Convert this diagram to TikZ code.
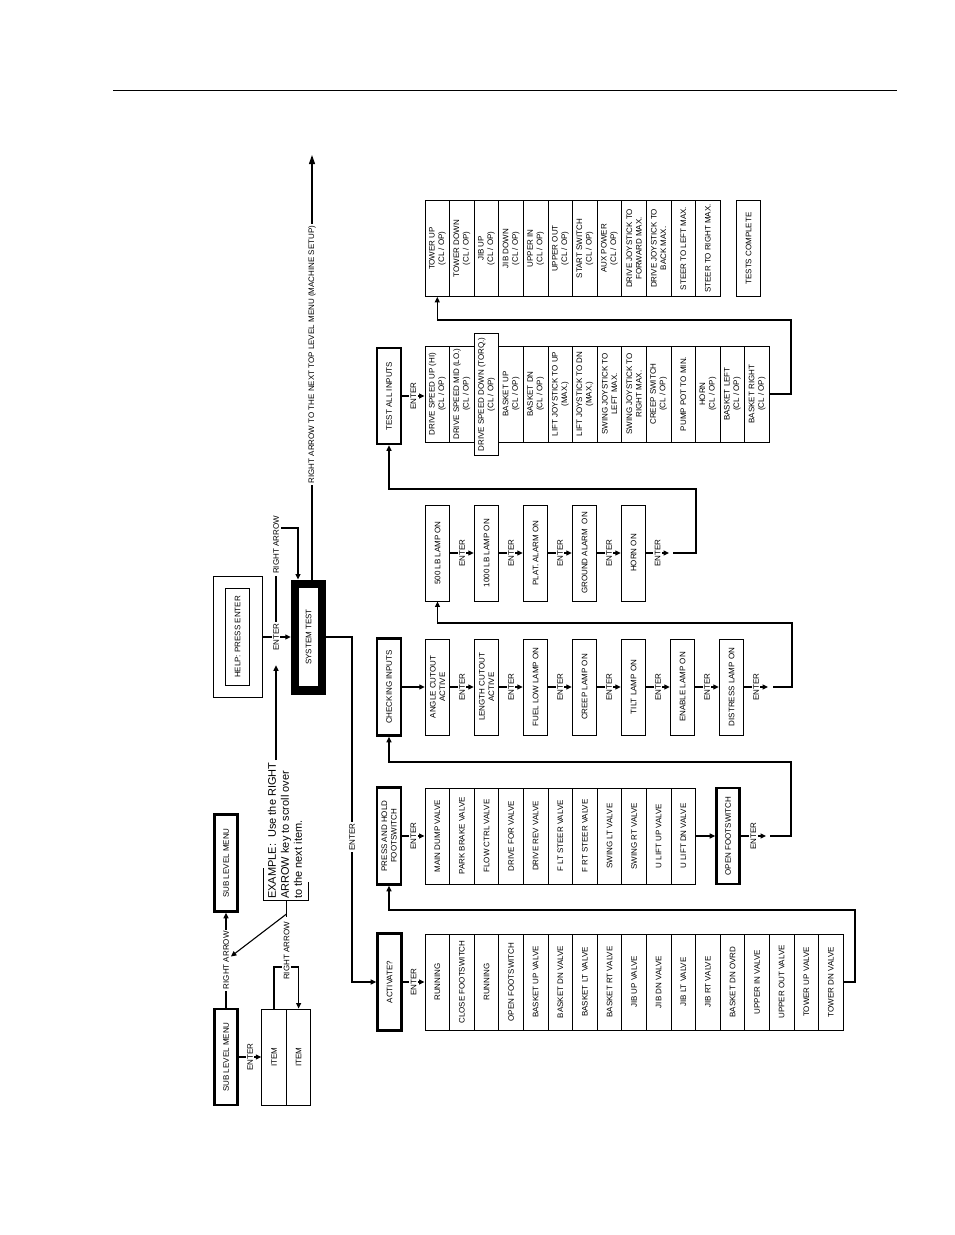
\documentclass[tikz,border=0pt]{standalone}
\usepackage{fontspec}
\setmainfont{Liberation Sans}
\usetikzlibrary{arrows.meta}

\begin{document}
\begin{tikzpicture}[x=1pt,y=-1pt,>={Triangle[length=5.5pt,width=5pt]},line join=miter,
  menu/.style={draw,line width=2.6pt,fill=white,rotate=90,inner sep=1pt,align=center,font=\fontsize{8}{9.5}\selectfont},
  item/.style={draw,line width=0.9pt,fill=white,rotate=90,minimum width=96pt,minimum height=24.6pt,inner sep=0pt,align=center,font=\fontsize{8}{9.5}\selectfont},
  lbl/.style={fill=white,rotate=90,inner sep=1.5pt,font=\fontsize{8}{9.5}\selectfont},
  flow/.style={line width=1.1pt}]
\useasboundingbox (0,0) rectangle (954,1235);
\draw[line width=0.9pt] (113,90) -- (897,90);
% sub level menu example
\node[menu,minimum width=96pt,minimum height=23.5pt] (sub1) at (226,1057) {SUB LEVEL MENU};
\node[menu,minimum width=97pt,minimum height=23.5pt] (sub2) at (226,863) {SUB LEVEL MENU};
\node[item] (it1) at (274,1057) {ITEM};
\node[item] (it2) at (298.6,1057) {ITEM};
\draw[flow,->] (sub1.east) -- node[lbl] (ra1) {RIGHT ARROW} (sub2.west);
\draw[flow,->] (sub1.south) -- node[lbl]{ENTER} (it1.north);
\coordinate (itTop) at (286,967);
\draw[flow,->] (it1.east) |- (itTop) -| (it2.east);
\node[lbl] (ra2) at (286.5,951) {RIGHT ARROW};
\node[rotate=90,anchor=west,align=left,inner sep=0pt,font=\fontsize{11}{13}\selectfont] (ex) at (285,899) {EXAMPLE:\ \ Use the RIGHT\\ARROW key to scroll over\\to the next item.};
\draw[line width=0.9pt] (263,868) -- (263,900) -- (308,900) -- (308,882);
\coordinate (exFoot) at (286.5,900);
\coordinate (exFork) at (286.5,914);
\coordinate (exTop) at (276,760);
\draw[flow,shorten >=3pt] (exFoot) -- (ra2);
\draw[flow,->] (exFork) -- (ra1);
% help and system test
\node[draw,line width=1pt,rotate=90,minimum width=121pt,minimum height=49pt] (help) at (237.5,637) {};
\node[item,minimum width=97pt] (helpin) at (237.5,637) {HELP: PRESS ENTER};
\node[draw,line width=8.5pt,fill=white,rotate=90,minimum width=106.5pt,minimum height=27pt,inner sep=0pt,font=\fontsize{8}{9.5}\selectfont] (sys) at (308.5,637) {SYSTEM TEST};
\node[lbl] (eh) at (276,637) {ENTER};
\node[lbl] (ra3) at (276,545) {RIGHT ARROW};
\draw[flow] (help.south) -- (eh);
\draw[flow,->] (eh) -- (sys.north);
\draw[flow] (eh) -- (ra3);
\draw[flow,->,shorten >=13pt] (exTop) -- (eh);
\coordinate (raOut) at (281,528);
\draw[flow,->] (raOut) -| ([xshift=-10.5pt]sys.east);
\coordinate (topEnd) at (312,155);
\draw[flow,-{Triangle[length=9pt,width=6pt]}] ([xshift=3.5pt]sys.east) -- node[lbl,pos=0.53]{RIGHT ARROW TO THE NEXT TOP LEVEL MENU (MACHINE SETUP)} (topEnd);
% activate
\node[menu,minimum width=97pt,minimum height=24pt] (act) at (389.5,982) {ACTIVATE?};
\node[item] (a1) at (437.3,982) {RUNNING};
\node[item] (a2) at (461.9,982) {CLOSE FOOTSWITCH};
\node[item] (a3) at (486.5,982) {RUNNING};
\node[item] (a4) at (511.1,982) {OPEN FOOTSWITCH};
\node[item] (a5) at (535.7,982) {BASKET UP VALVE};
\node[item] (a6) at (560.3,982) {BASKET DN VALVE};
\node[item] (a7) at (584.9,982) {BASKET LT VALVE};
\node[item] (a8) at (609.5,982) {BASKET RT VALVE};
\node[item] (a9) at (634.1,982) {JIB UP VALVE};
\node[item] (a10) at (658.7,982) {JIB DN VALVE};
\node[item] (a11) at (683.3,982) {JIB LT VALVE};
\node[item] (a12) at (707.9,982) {JIB RT VALVE};
\node[item] (a13) at (732.5,982) {BASKET DN OVRD};
\node[item] (a14) at (757.1,982) {UPPER IN VALVE};
\node[item] (a15) at (781.7,982) {UPPER OUT VALVE};
\node[item] (a16) at (806.3,982) {TOWER UP VALVE};
\node[item] (a17) at (830.9,982) {TOWER DN VALVE};
\coordinate (sysR) at (352,637);
\coordinate (actL) at (352,982);
\draw[flow,->] (sys.south) -- (sysR) -- node[lbl,pos=0.58]{ENTER} (actL) -- (act.north);
\draw[flow,->] (act.south) -- node[lbl]{ENTER} (a1.north);
% press and hold
\node[menu,minimum width=97pt,minimum height=24pt] (ph) at (389,836) {PRESS AND HOLD\\FOOTSWITCH};
\node[item] (p1) at (437.3,836) {MAIN DUMP VALVE};
\node[item] (p2) at (461.9,836) {PARK BRAKE VALVE};
\node[item] (p3) at (486.5,836) {FLOW CTRL VALVE};
\node[item] (p4) at (511.1,836) {DRIVE FOR VALVE};
\node[item] (p5) at (535.7,836) {DRIVE REV VALVE};
\node[item] (p6) at (560.3,836) {F LT STEER VALVE};
\node[item] (p7) at (584.9,836) {F RT STEER VALVE};
\node[item] (p8) at (609.5,836) {SWING LT VALVE};
\node[item] (p9) at (634.1,836) {SWING RT VALVE};
\node[item] (p10) at (658.7,836) {U LIFT UP VALVE};
\node[item] (p11) at (683.3,836) {U LIFT DN VALVE};
\node[menu,minimum width=96pt,minimum height=23pt] (of) at (728,836) {OPEN FOOTSWITCH};
\coordinate (actBack) at (855,910);
\draw[flow,->] (a17.south) -| (actBack) -| (ph.west);
\draw[flow,->] (ph.south) -- node[lbl]{ENTER} (p1.north);
\draw[flow,->] (p11.south) -- (of.north);
\coordinate (ofTip) at (766,836);
\coordinate (ofGo) at (770,836);
\coordinate (ofBack) at (791,762);
\draw[flow,->] (of.south) -- node[lbl]{ENTER} (ofTip);
% checking inputs
\node[menu,minimum width=97pt,minimum height=24pt] (ci) at (389,687) {CHECKING INPUTS};
\node[item] (c1) at (437.5,687) {ANGLE CUTOUT\\ACTIVE};
\node[item] (c2) at (486.5,687) {LENGTH CUTOUT\\ACTIVE};
\node[item] (c3) at (535.5,687) {FUEL LOW LAMP ON};
\node[item] (c4) at (584.5,687) {CREEP LAMP ON};
\node[item] (c5) at (633.5,687) {TILT LAMP ON};
\node[item] (c6) at (682.5,687) {ENABLE LAMP ON};
\node[item] (c7) at (731.5,687) {DISTRESS LAMP ON};
\draw[flow,->] (ofGo) -| (ofBack) -| (ci.west);
\draw[flow,->] (ci.south) -- (c1.north);
\draw[flow,->] (c1.south) -- node[lbl]{ENTER} (c2.north);
\draw[flow,->] (c2.south) -- node[lbl]{ENTER} (c3.north);
\draw[flow,->] (c3.south) -- node[lbl]{ENTER} (c4.north);
\draw[flow,->] (c4.south) -- node[lbl]{ENTER} (c5.north);
\draw[flow,->] (c5.south) -- node[lbl]{ENTER} (c6.north);
\draw[flow,->] (c6.south) -- node[lbl]{ENTER} (c7.north);
\coordinate (ciTip) at (768,687);
\coordinate (ciGo) at (773,687);
\coordinate (ciBack) at (792,623);
\draw[flow,->] (c7.south) -- node[lbl]{ENTER} (ciTip);
% lamps
\node[item] (l1) at (437.5,553) {500 LB LAMP ON};
\node[item] (l2) at (486.5,553) {1000 LB LAMP ON};
\node[item] (l3) at (535.5,553) {PLAT. ALARM ON};
\node[item] (l4) at (584.5,553) {GROUND ALARM\ \ ON};
\node[item] (l5) at (633.5,553) {HORN ON};
\draw[flow,->] (ciGo) -| (ciBack) -| (l1.west);
\draw[flow,->] (l1.south) -- node[lbl]{ENTER} (l2.north);
\draw[flow,->] (l2.south) -- node[lbl]{ENTER} (l3.north);
\draw[flow,->] (l3.south) -- node[lbl]{ENTER} (l4.north);
\draw[flow,->] (l4.south) -- node[lbl]{ENTER} (l5.north);
\coordinate (lbTip) at (669,553);
\coordinate (lbGo) at (673,553);
\coordinate (lbBack) at (696,489);
\draw[flow,->] (l5.south) -- node[lbl]{ENTER} (lbTip);
% test all inputs
\node[menu,minimum width=96pt,minimum height=24pt] (tai) at (389,396) {TEST ALL INPUTS};
\node[item] (t1) at (437.3,394) {DRIVE SPEED UP (HI)\\(CL / OP)};
\node[item] (t2) at (461.9,394) {DRIVE SPEED MID (LO.)\\(CL / OP)};
\node[item] (t4) at (511.1,394) {BASKET UP\\(CL / OP)};
\node[item] (t3) at (486.5,394.5) [minimum width=122pt] {DRIVE SPEED DOWN (TORQ.)\\(CL / OP)};
\node[item] (t5) at (535.7,394) {BASKET DN\\(CL / OP)};
\node[item] (t6) at (560.3,394) {LIFT JOYSTICK TO UP\\(MAX.)};
\node[item] (t7) at (584.9,394) {LIFT JOYSTICK TO DN\\(MAX.)};
\node[item] (t8) at (609.5,394) {SWING JOYSTICK TO\\LEFT MAX.};
\node[item] (t9) at (634.1,394) {SWING JOYSTICK TO\\RIGHT MAX.};
\node[item] (t10) at (658.7,394) {CREEP SWITCH\\(CL / OP)};
\node[item] (t11) at (683.3,394) {PUMP POT TO MIN.};
\node[item] (t12) at (707.9,394) {HORN\\(CL / OP)};
\node[item] (t13) at (732.5,394) {BASKET LEFT\\(CL / OP)};
\node[item] (t14) at (757.1,394) {BASKET RIGHT\\(CL / OP)};
\draw[flow,->] (lbGo) -| (lbBack) -| (tai.west);
\draw[flow,->] (tai.south) -- node[lbl]{ENTER} (tai.south -| t1.north);
% tower and tests complete
\node[item] (w1) at (437.3,248.5) {TOWER UP\\(CL / OP)};
\node[item] (w2) at (461.9,248.5) {TOWER DOWN\\(CL / OP)};
\node[item] (w3) at (486.5,248.5) {JIB UP\\(CL / OP)};
\node[item] (w4) at (511.1,248.5) {JIB DOWN\\(CL / OP)};
\node[item] (w5) at (535.7,248.5) {UPPER IN\\(CL / OP)};
\node[item] (w6) at (560.3,248.5) {UPPER OUT\\(CL / OP)};
\node[item] (w7) at (584.9,248.5) {START SWITCH\\(CL / OP)};
\node[item] (w8) at (609.5,248.5) {AUX POWER\\(CL / OP)};
\node[item] (w9) at (634.1,248.5) {DRIVE JOYSTICK TO\\FORWARD MAX.};
\node[item] (w10) at (658.7,248.5) {DRIVE JOYSTICK TO\\BACK MAX.};
\node[item] (w11) at (683.3,248.5) {STEER TO LEFT MAX.};
\node[item] (w12) at (707.9,248.5) {STEER TO RIGHT MAX.};
\node[item] (tc) at (748.5,248.5) {TESTS COMPLETE};
\coordinate (taBack) at (791,320);
\draw[flow,->] (t14.south) -| (taBack) -| (w1.west);
\end{tikzpicture}
\end{document}
